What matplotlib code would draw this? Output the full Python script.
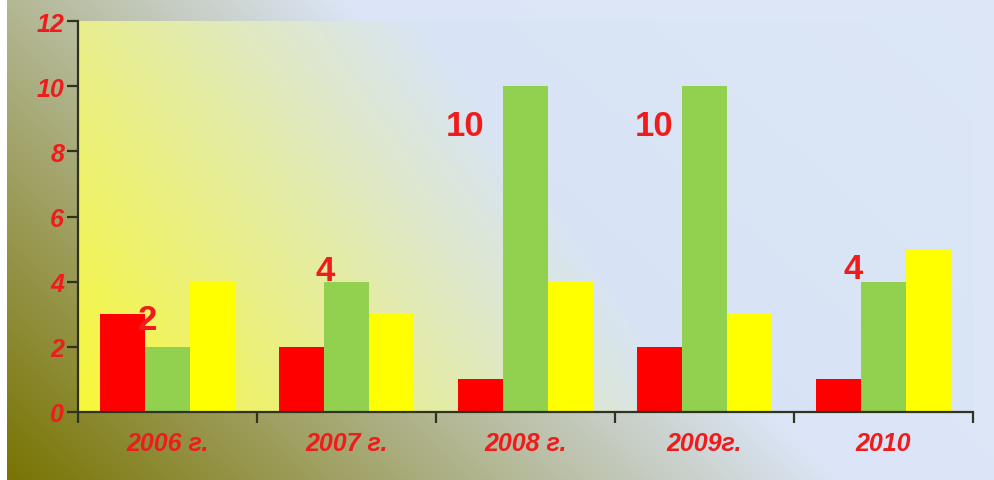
import numpy as np
import matplotlib
matplotlib.use("Agg")
import matplotlib.pyplot as plt

# ---- data ----
categories = ["2006 г.", "2007 г.", "2008 г.", "2009г.", "2010"]
red_values = [3, 2, 1, 2, 1]
green_values = [2, 4, 10, 10, 4]
yellow_values = [4, 3, 4, 3, 5]
y_ticks = [0, 2, 4, 6, 8, 10, 12]
label_texts = ["2", "4", "10", "10", "4"]

# ---- layout / style ----
label_offsets = [(-0.11, 2.85), (-0.12, 4.34), (-0.34, 8.8), (-0.28, 8.8), (-0.17, 4.39)]
RED = "#ff0000"
GREEN = "#92d050"
YELLOW = "#ffff00"
TXT = "#ee1c1c"
AX = "#2f3320"

W, H = 994, 481
fig = plt.figure(figsize=(W / 100, H / 100), dpi=100)

# figure background gradient
bg = fig.add_axes([0, 0, 1, 1], zorder=-10)
xs = np.linspace(0, 1, W)
ys = np.linspace(1, 0, H)
X, Y = np.meshgrid(xs, ys)
s = np.clip(X / 0.85 + Y / 1.7, 0, 1)
olive = np.array([0.47, 0.45, 0.0])
blue = np.array([0.86, 0.90, 0.97])
img = olive[None, None, :] * (1 - s[..., None]) + blue[None, None, :] * s[..., None]
# slight lightening to top-right
light = np.clip((X - 0.5) * 0.6 + (Y - 0.5) * 0.3, 0, 1)[..., None] * 0.3
img = img * (1 - light) + np.array([0.92, 0.94, 0.98])[None, None, :] * light
img[:, :7, :] = 1.0
bg.imshow(img, aspect="auto", extent=[0, 1, 0, 1], interpolation="bilinear")
bg.axis("off")

ax = fig.add_axes([78 / W, 68 / H, (973 - 78) / W, (413 - 22) / H])

# plot area gradient
pw, ph = 400, 200
px = np.linspace(0, 1, pw)
py = np.linspace(1, 0, ph)
PX, PY = np.meshgrid(px, py)
t = np.clip(PX / 0.7 + PY * 0.45, 0, 1)
yel = np.array([0.97, 0.97, 0.22])
lb = np.array([0.84, 0.89, 0.96])
pimg = yel[None, None, :] * (1 - t[..., None]) + lb[None, None, :] * t[..., None]
plight = np.clip((PX - 0.4) * 0.8 + (PY - 0.3) * 0.4, 0, 1)[..., None] * 0.45
pimg = pimg * (1 - plight) + np.array([0.91, 0.93, 0.98])[None, None, :] * plight
ax.imshow(pimg, aspect="auto", extent=[-0.5, 4.5, 0, 12], zorder=0, interpolation="bilinear")
ax.set_xlim(-0.5, 4.5)
ax.set_ylim(0, 12)

x = np.arange(len(categories))
bw = 0.25
ax.bar(x - bw, red_values, bw, color=RED, zorder=2)
ax.bar(x, green_values, bw, color=GREEN, zorder=2)
ax.bar(x + bw, yellow_values, bw, color=YELLOW, zorder=2)

for i, (txt, (dx, yy)) in enumerate(zip(label_texts, label_offsets)):
    ax.text(x[i] + dx, yy, txt, ha="center", va="center", color=TXT,
            fontsize=25, fontweight="bold", family="Liberation Sans", zorder=3)

for sp in ["top", "right"]:
    ax.spines[sp].set_visible(False)
for sp in ["left", "bottom"]:
    ax.spines[sp].set_color(AX)
    ax.spines[sp].set_linewidth(1.6)

ax.set_yticks(y_ticks)
ax.set_yticklabels([str(v) for v in y_ticks])
ax.tick_params(axis="y", direction="out", length=8, width=1.6, color=AX, pad=2,
               labelcolor=TXT, labelsize=18)
ax.set_xticks(x)
ax.set_xticklabels(categories)
ax.set_xticks(np.arange(-0.5, 5.0, 1.0), minor=True)
ax.tick_params(axis="x", which="major", length=0, pad=14, labelcolor=TXT, labelsize=18)
ax.tick_params(axis="x", which="minor", direction="out", length=8, width=1.6, color=AX)
for lab in ax.get_xticklabels() + ax.get_yticklabels():
    lab.set_fontstyle("italic")
    lab.set_fontweight("bold")
    lab.set_family("Liberation Sans")

fig.savefig("out.png", dpi=100)
